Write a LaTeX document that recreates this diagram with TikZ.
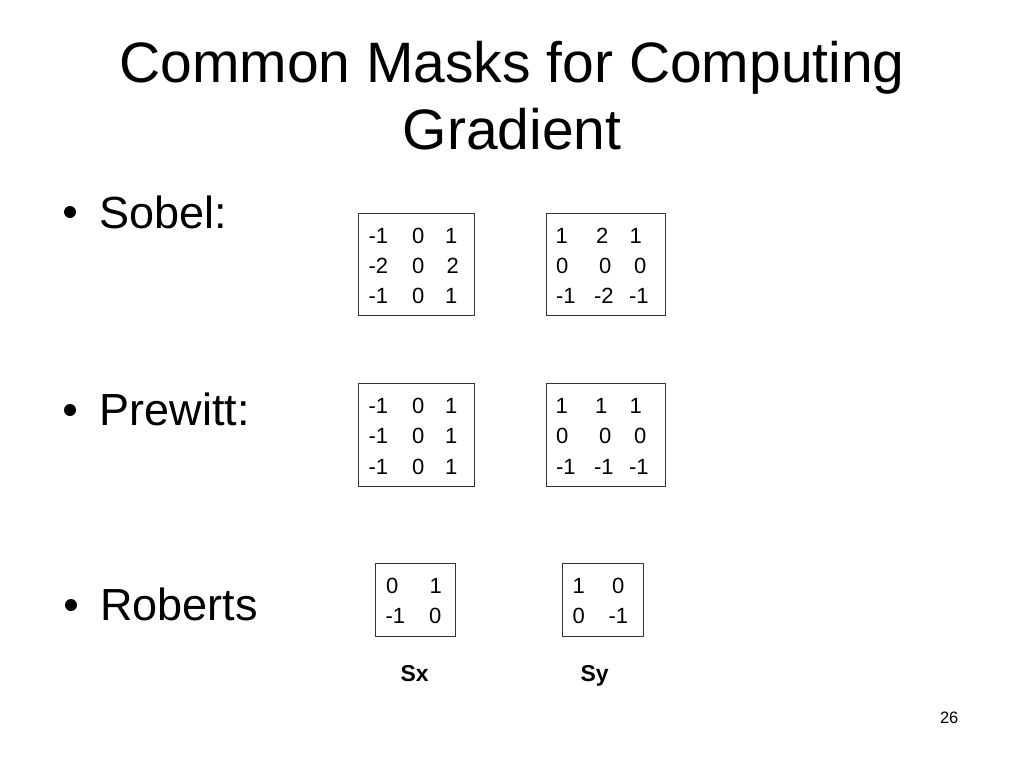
\documentclass[tikz,border=0pt]{standalone}
\usepackage{fontspec}
\setmainfont{Liberation Sans}
\begin{document}
\begin{tikzpicture}[x=1pt,y=-1pt,
  every node/.style={inner sep=0pt,outer sep=0pt},
  titletext/.style={anchor=base,font=\fontsize{57}{67}\selectfont},
  bullettext/.style={anchor=base west,font=\fontsize{45}{54}\selectfont},
  bulletdot/.style={circle,fill=black,minimum size=12pt},
  mbox/.style={draw=black!80,line width=1pt,anchor=north west,rectangle},
  cell/.style={anchor=base west,font=\fontsize{22}{26}\selectfont},
  axislabel/.style={anchor=base west,font=\fontsize{23}{27}\selectfont\bfseries},
  pagenum/.style={anchor=base west,font=\fontsize{16.5}{20}\selectfont}]
\useasboundingbox[fill=white] (0,0) rectangle (1024,768);

% title
\node[titletext] (t1) at (512,82.5) {Common Masks for Computing};
\node[titletext] (t2) at (512,149.5) {Gradient};

% bullets
\node[bulletdot] (b1) at (70,212) {};
\node[bullettext] (l1) at (99.5,228.3) {Sobel:};
\node[bulletdot] (b2) at (70,410) {};
\node[bullettext] (l2) at (99.5,425) {Prewitt:};
\node[bulletdot] (b3) at (71,605) {};
\node[bullettext] (l3) at (100,620.7) {Roberts};

% boxes
\node[mbox,minimum width=115.7pt,minimum height=102pt] (sobx) at (358.3,213.3) {};
\node[mbox,minimum width=119pt,minimum height=102pt] (soby) at (546,213.3) {};
\node[mbox,minimum width=115.7pt,minimum height=102.5pt] (prex) at (358.3,383.5) {};
\node[mbox,minimum width=119pt,minimum height=102.5pt] (prey) at (546,383.5) {};
\node[mbox,minimum width=80.7pt,minimum height=72.7pt] (robx) at (375,563.3) {};
\node[mbox,minimum width=80.6pt,minimum height=72.7pt] (roby) at (562.7,563.3) {};

% Sobel Sx
\node[cell] (s11) at (368.5,243.5) {-1};
\node[cell] (s12) at (412,243.5) {0};
\node[cell] (s13) at (445,243.5) {1};
\node[cell] (s21) at (368.5,273.5) {-2};
\node[cell] (s22) at (412,273.5) {0};
\node[cell] (s23) at (446.5,273.5) {2};
\node[cell] (s31) at (368.5,303.8) {-1};
\node[cell] (s32) at (412,303.8) {0};
\node[cell] (s33) at (445,303.8) {1};

% Sobel Sy
\node[cell] (y11) at (555.5,243.5) {1};
\node[cell] (y12) at (596,243.5) {2};
\node[cell] (y13) at (629.5,243.5) {1};
\node[cell] (y21) at (556,273.5) {0};
\node[cell] (y22) at (599,273.5) {0};
\node[cell] (y23) at (634,273.5) {0};
\node[cell] (y31) at (556,303.8) {-1};
\node[cell] (y32) at (594,303.8) {-2};
\node[cell] (y33) at (629,303.8) {-1};

% Prewitt Sx
\node[cell] (p11) at (368.5,413.7) {-1};
\node[cell] (p12) at (412,413.7) {0};
\node[cell] (p13) at (445,413.7) {1};
\node[cell] (p21) at (368.5,443.7) {-1};
\node[cell] (p22) at (412,443.7) {0};
\node[cell] (p23) at (445,443.7) {1};
\node[cell] (p31) at (368.5,474) {-1};
\node[cell] (p32) at (412,474) {0};
\node[cell] (p33) at (445,474) {1};

% Prewitt Sy
\node[cell] (q11) at (555.5,413.7) {1};
\node[cell] (q12) at (595,413.7) {1};
\node[cell] (q13) at (629.5,413.7) {1};
\node[cell] (q21) at (556,443.7) {0};
\node[cell] (q22) at (599,443.7) {0};
\node[cell] (q23) at (634,443.7) {0};
\node[cell] (q31) at (556,474) {-1};
\node[cell] (q32) at (594,474) {-1};
\node[cell] (q33) at (629,474) {-1};

% Roberts Sx
\node[cell] (r11) at (386,593.3) {0};
\node[cell] (r12) at (429.5,593.3) {1};
\node[cell] (r21) at (385.5,623.3) {-1};
\node[cell] (r22) at (429,623.3) {0};

% Roberts Sy
\node[cell] (z11) at (572.5,593.3) {1};
\node[cell] (z12) at (612,593.3) {0};
\node[cell] (z21) at (572.5,623.3) {0};
\node[cell] (z22) at (608.5,623.3) {-1};

% labels
\node[axislabel] (sx) at (400.5,681.7) {Sx};
\node[axislabel] (sy) at (580.5,681.7) {Sy};

\node[pagenum] (pg) at (940,723.3) {26};
\end{tikzpicture}
\end{document}
